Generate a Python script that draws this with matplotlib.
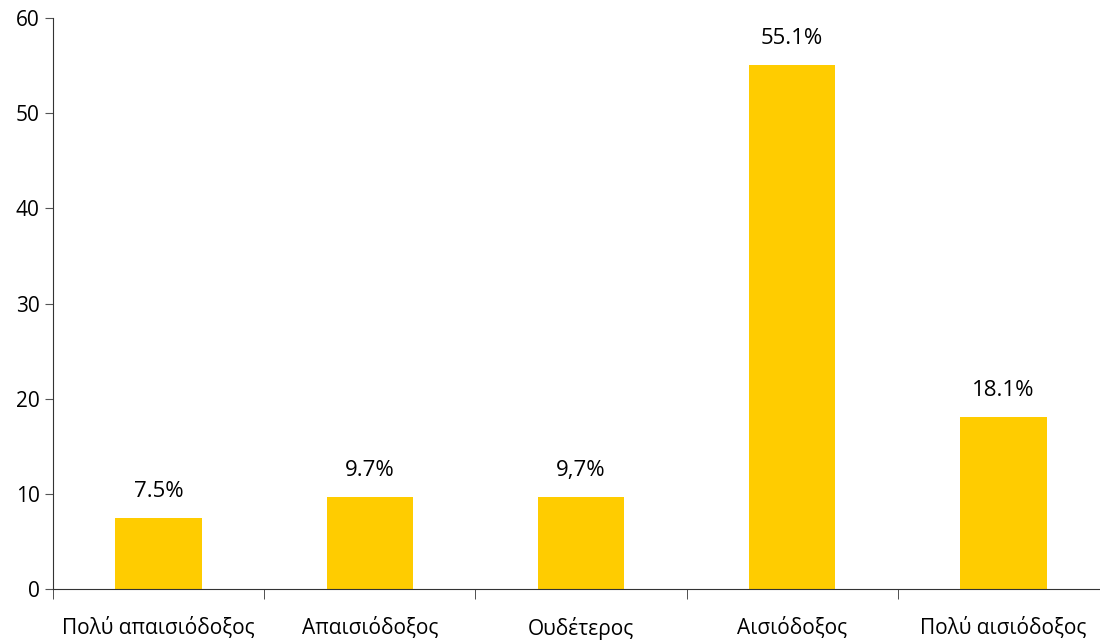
import matplotlib.pyplot as plt
import numpy as np

categories = ["Πολύ απαισιόδοξος", "Απαισιόδοξος", "Ουδέτερος", "Αισιόδοξος", "Πολύ αισιόδοξος"]
values = [7.5, 9.7, 9.7, 55.1, 18.1]
labels = ["7.5%", "9.7%", "9,7%", "55.1%", "18.1%"]

plt.rcParams['font.family'] = ['Open Sans', 'DejaVu Sans']

fig = plt.figure(figsize=(11, 6.43), dpi=100)
ax = fig.add_axes([53 / 1100, 54 / 643, 1056 / 1100, 571 / 643])

x = np.arange(len(categories))
ax.bar(x, values, width=0.41, color="#FFCC00")
for xi, v, lab in zip(x, values, labels):
    ax.annotate(lab, (xi, v), xytext=(0, 11), textcoords="offset points",
                ha="center", va="bottom", fontsize=16)

ax.set_xlim(-0.5, len(categories) - 0.5)
ax.set_ylim(0, 60)
ax.set_yticks(range(0, 61, 10))
ax.set_xticks(x)
ax.set_xticklabels(categories, fontsize=15)
ax.set_xticks(np.arange(-0.5, len(categories), 1), minor=True)
ax.tick_params(axis="x", which="major", length=0, pad=20)
ax.tick_params(axis="x", which="minor", length=7, direction="out", color="#333333")
ax.tick_params(axis="y", length=6, direction="out", color="#555555", labelsize=15)

for s in ["top", "right"]:
    ax.spines[s].set_visible(False)
ax.spines["left"].set_color("#333333")
ax.spines["bottom"].set_color("#333333")

fig.savefig("out.png", dpi=100)
